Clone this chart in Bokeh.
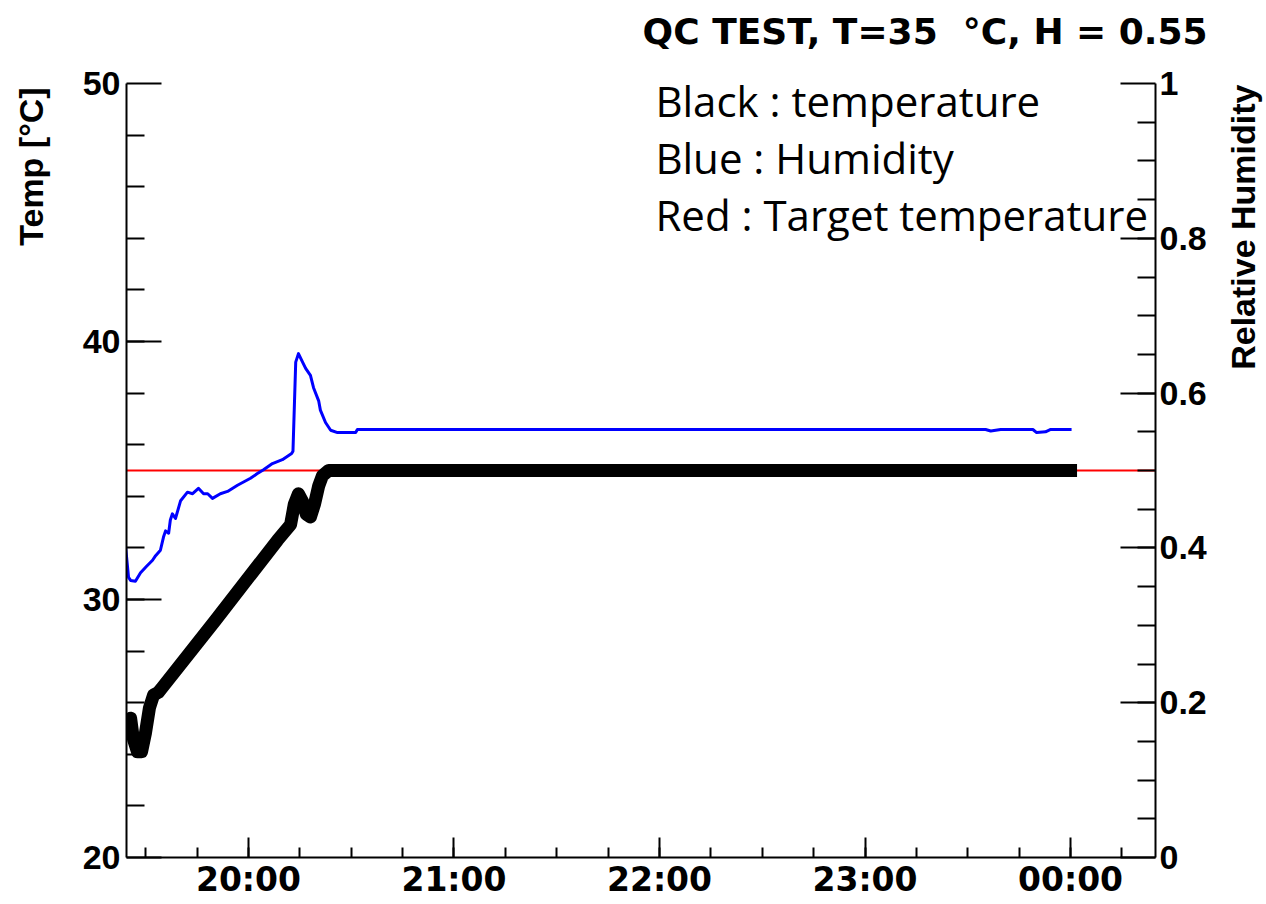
import pandas as pd
from bokeh.plotting import figure
from bokeh.models import Range1d, LinearAxis, FixedTicker, DatetimeTickFormatter, Label
from bokeh.embed import file_html
from bokeh.resources import INLINE

# ---------------- data (minutes after 19:00) ----------------
base = pd.Timestamp("2020-01-01 19:00:00")

temp_min = [24.0, 24.4, 25.0, 25.6, 26.4, 27.6, 28.8, 29.9, 31.1, 32.3, 33.7, 34.9,
            50.4, 68.5, 72.3, 73.4, 74.6, 75.8, 76.9, 78.1, 79.3, 80.5, 81.6, 83.4, 300.0]
temp_val = [24.8, 25.3, 24.9, 25.4, 24.6, 24.1, 24.1, 24.8, 25.8, 26.3, 26.4, 26.6,
            29.2, 32.3, 32.9, 33.7, 34.1, 33.8, 33.3, 33.2, 33.7, 34.4, 34.8, 35.0, 35.0]

hum_min = [24.1, 25.0, 25.6, 27.0, 28.5, 30.2, 32.0, 32.9, 34.3, 35.2, 35.8, 36.7, 37.2,
           37.8, 38.7, 40.2, 42.2, 43.7, 45.4, 46.9, 48.1, 49.5, 51.8, 53.9, 56.8, 60.6,
           62.6, 64.4, 67.0, 69.9, 72.6, 73.0, 73.8, 74.6, 75.8, 76.7, 78.1, 79.0, 80.5,
           81.0, 82.5, 84.0, 86.0, 91.3, 91.8, 275.2, 276.7, 279.6, 289.0, 290.1, 292.7,
           294.2, 300.3]
hum_val = [0.403, 0.362, 0.358, 0.357, 0.368, 0.376, 0.384, 0.390, 0.397, 0.414, 0.422,
           0.419, 0.436, 0.444, 0.438, 0.461, 0.472, 0.470, 0.477, 0.470, 0.470, 0.464,
           0.470, 0.473, 0.481, 0.490, 0.496, 0.501, 0.509, 0.514, 0.522, 0.525, 0.640,
           0.651, 0.640, 0.632, 0.623, 0.607, 0.590, 0.578, 0.562, 0.552, 0.549, 0.549,
           0.553, 0.553, 0.551, 0.553, 0.553, 0.549, 0.550, 0.553, 0.553]

target_temp = 35.0

x_start_min, x_end_min = 24.4, 324.8
temp_ticks = [20, 30, 40, 50]
hum_ticks = [0.0, 0.2, 0.4, 0.6, 0.8, 1.0]
hum_tick_labels = ["0", "0.2", "0.4", "0.6", "0.8", "1"]
hour_ticks_min = [60, 120, 180, 240, 300]          # 20:00 ... 00:00

title_text = "QC TEST, T=35 \u00a0\u00b0C, H = 0.55"
legend_lines = ["Black : temperature", "Blue : Humidity", "Red : Target temperature"]


def to_dt(mins):
    return [base + pd.Timedelta(minutes=m) for m in mins]


def ms(m):
    return (base + pd.Timedelta(minutes=m)).value / 1e6


# ---------------- figure ----------------
p = figure(width=1266, height=904, x_axis_type="datetime",
           x_range=Range1d(ms(x_start_min), ms(x_end_min)),
           y_range=Range1d(20, 50),
           output_backend="svg", toolbar_location=None,
           min_border_left=126, min_border_right=111,
           min_border_top=83, min_border_bottom=47)
p.extra_y_ranges = {"hum": Range1d(0, 1)}
p.grid.visible = False
p.outline_line_color = None
p.background_fill_color = "white"

# lines
p.line(to_dt([x_start_min, x_end_min]), [target_temp, target_temp],
       line_color="#ff0000", line_width=2)
p.line(to_dt(temp_min), temp_val, line_color="black", line_width=13,
       line_join="round", line_cap="square")
p.line(to_dt(hum_min), hum_val, line_color="#0000ff", line_width=3,
       line_join="round", y_range_name="hum")

# axes
right = LinearAxis(y_range_name="hum")
p.add_layout(right, "right")

p.xaxis.ticker = FixedTicker(ticks=[ms(m) for m in hour_ticks_min],
                             minor_ticks=[ms(m) for m in range(30, 325, 15)])
fmt = "%H:%M"
p.xaxis.formatter = DatetimeTickFormatter(microseconds=fmt, milliseconds=fmt, seconds=fmt,
                                          minsec=fmt, minutes=fmt, hourmin=fmt, hours=fmt,
                                          days=fmt, months=fmt, years=fmt)
p.yaxis[0].ticker = FixedTicker(ticks=temp_ticks, minor_ticks=list(range(22, 50, 2)))
right.ticker = FixedTicker(ticks=hum_ticks, minor_ticks=[i * 0.05 for i in range(1, 20)])
right.major_label_overrides = dict(zip(hum_ticks, hum_tick_labels))

for ax in [p.xaxis[0], p.yaxis[0], right]:
    ax.axis_line_width = 2
    ax.major_tick_line_width = 2
    ax.minor_tick_line_width = 2
    ax.major_tick_out = 0
    ax.minor_tick_out = 0
    ax.major_label_text_font = "Liberation Sans"
    ax.major_label_text_font_style = "bold"
    ax.major_label_text_color = "black"
    ax.axis_line_color = "black"
    ax.major_tick_line_color = "black"
    ax.minor_tick_line_color = "black"

p.xaxis.major_tick_in = 20
p.xaxis.minor_tick_in = 10
p.xaxis.major_label_text_font = "DejaVu Sans"
p.xaxis.major_label_text_font_size = "33px"
p.xaxis.major_label_standoff = 2
p.yaxis[0].major_tick_in = 35
p.yaxis[0].minor_tick_in = 18
p.yaxis[0].major_label_text_font_size = "34px"
p.yaxis[0].major_label_standoff = 6
right.major_tick_in = 35
right.minor_tick_in = 18
right.major_label_text_font_size = "34px"
right.major_label_standoff = 4

# texts outside the frame: placed in side panels (not clipped), data coordinates
p.add_layout(Label(x=ms(340.0), y=52.02, text=title_text,
                   text_align="right", text_baseline="middle", text_font="DejaVu Sans",
                   text_font_style="bold", text_font_size="36px", text_color="black"), "above")
p.add_layout(Label(x=ms(-3.5), y=49.85, text="Temp [\u00b0C]",
                   angle=1.5707963, text_align="right", text_baseline="middle",
                   text_font="Liberation Sans", text_font_style="bold",
                   text_font_size="34px", text_color="black"), "left")
p.add_layout(Label(x=ms(350.4), y=49.96, text="Relative Humidity", angle=1.5707963,
                   text_align="right", text_baseline="middle", text_font="Liberation Sans",
                   text_font_style="bold", text_font_size="34px", text_color="black"), "right")
# legend-like texts inside the frame
for txt, yy in zip(legend_lines, [49.34, 47.13, 44.92]):
    p.add_layout(Label(x=ms(178.8), y=yy, text=txt, text_align="left",
                       text_baseline="alphabetic", text_font="Open Sans",
                       text_font_size="42px", text_color="black"))

open("out.html", "w").write(file_html(p, INLINE))
